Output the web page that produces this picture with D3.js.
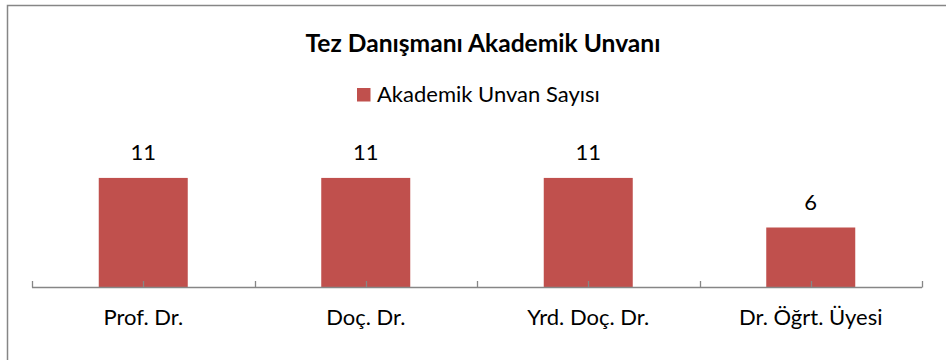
<!DOCTYPE html>
<html>
<head>
<meta charset="utf-8">
<script src="https://cdn.jsdelivr.net/npm/d3@7"></script>
<style>
  html, body { margin: 0; padding: 0; background: #fff; }
  svg { display: block; font-family: Lato, "Open Sans", sans-serif; }
</style>
</head>
<body>
<svg id="chart" width="946" height="360"></svg>
<script>
// Academic title counts of thesis advisors
const categories = ["Prof. Dr.", "Doç. Dr.", "Yrd. Doç. Dr.", "Dr. Öğrt. Üyesi"];
const counts = [11, 11, 11, 6];
const seriesName = "Akademik Unvan Sayısı";
const chartTitle = "Tez Danışmanı Akademik Unvanı";

const svg = d3.select("#chart");
const barColor = "#C0504D";
const axisColor = "#868686";

// Outer chart frame (continues past the right and bottom edges)
svg.append("rect")
  .attr("x", 7.5).attr("y", 5.5)
  .attr("width", 960).attr("height", 380)
  .attr("fill", "#fff")
  .attr("stroke", axisColor)
  .attr("stroke-width", 1.5);

const x = d3.scaleBand()
  .domain(categories)
  .range([32, 922])
  .paddingInner(0.6)
  .paddingOuter(0.3);

const y = d3.scaleLinear()
  .domain([0, 12])
  .range([287, 168]);

// Title
svg.append("text")
  .attr("x", 483).attr("y", 52)
  .attr("text-anchor", "middle")
  .attr("font-size", 24.6)
  .attr("font-weight", "bold")
  .attr("fill", "#000")
  .text(chartTitle);

// Legend
const legend = svg.append("g").attr("transform", "translate(357,88)");
legend.append("rect")
  .attr("width", 13.5).attr("height", 13.5)
  .attr("fill", barColor);
legend.append("text")
  .attr("x", 20).attr("y", 14)
  .attr("font-size", 22)
  .attr("fill", "#000")
  .text(seriesName);

const data = categories.map((c, i) => ({ cat: c, value: counts[i] }));

// Bars
svg.append("g").selectAll("rect")
  .data(data)
  .join("rect")
  .attr("x", d => x(d.cat))
  .attr("y", d => y(d.value))
  .attr("width", x.bandwidth())
  .attr("height", d => y(0) - y(d.value))
  .attr("fill", barColor);

// Value labels
svg.append("g").selectAll("text")
  .data(data)
  .join("text")
  .attr("x", d => x(d.cat) + x.bandwidth() / 2)
  .attr("y", d => y(d.value) - 18)
  .attr("text-anchor", "middle")
  .attr("font-size", 22)
  .attr("fill", "#000")
  .text(d => d.value);

// Category axis: tick marks at band edges and band centres, pointing up
const step = x.step();
const x0 = x.range()[0];
const tickPos = d3.range(categories.length * 2 + 1).map(k => x0 + k * step / 2);
const axisG = svg.append("g");
axisG.append("line")
  .attr("x1", x0).attr("x2", x.range()[1])
  .attr("y1", y(0) + 0.5).attr("y2", y(0) + 0.5)
  .attr("stroke", axisColor).attr("stroke-width", 1.3);
axisG.selectAll("line.tick")
  .data(tickPos)
  .join("line")
  .attr("class", "tick")
  .attr("x1", d => Math.round(d) + 0.5).attr("x2", d => Math.round(d) + 0.5)
  .attr("y1", y(0) + 0.5).attr("y2", y(0) - 6)
  .attr("stroke", axisColor).attr("stroke-width", 1.3);

// Category labels
axisG.selectAll("text")
  .data(categories)
  .join("text")
  .attr("x", d => x(d) + x.bandwidth() / 2)
  .attr("y", 325)
  .attr("text-anchor", "middle")
  .attr("font-size", 22)
  .attr("fill", "#000")
  .text(d => d);
</script>
</body>
</html>
